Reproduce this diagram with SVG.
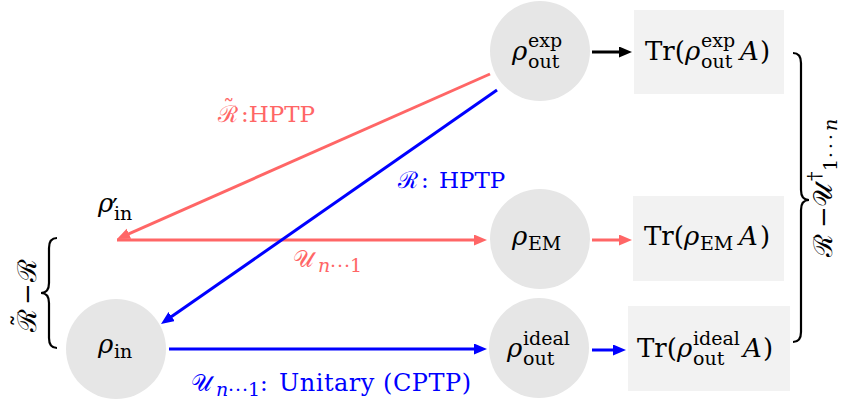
<svg xmlns="http://www.w3.org/2000/svg" width="844" height="408" viewBox="0 0 844 408">
<style>
.m{font-family:"DejaVu Serif","Liberation Serif",serif;font-size:26px;fill:#000}
.i{font-style:italic}
.s{font-size:19px}
.l{font-size:23px}
.red{fill:#ff6666}
.blue{fill:#0000ff}
.circ{fill:#e6e6e6}
.box{fill:#f2f2f2}
.e{stroke-width:3;fill:none}
.br{stroke:#000;stroke-width:2.2;fill:none}
</style>
<defs>
<marker id="ak" markerUnits="userSpaceOnUse" markerWidth="14" markerHeight="12" refX="7" refY="5.5" orient="auto"><path d="M0,0 L13,5.5 L0,11 z" fill="#000"/></marker>
<marker id="ar" markerUnits="userSpaceOnUse" markerWidth="14" markerHeight="12" refX="7" refY="5.5" orient="auto"><path d="M0,0 L13,5.5 L0,11 z" fill="#ff6666"/></marker>
<marker id="ab" markerUnits="userSpaceOnUse" markerWidth="14" markerHeight="12" refX="7" refY="5.5" orient="auto"><path d="M0,0 L13,5.5 L0,11 z" fill="#0000ff"/></marker>
</defs>

<g id="n-exp">
<circle class="circ" cx="540" cy="51" r="50"/>
<text class="m"><tspan class="i" x="512" y="60">ρ</tspan><tspan class="s" x="528" y="47">exp</tspan><tspan class="s" x="528" y="68">out</tspan></text>
</g>
<g id="b-exp">
<rect class="box" x="634" y="10" width="150" height="84"/>
<text class="m"><tspan x="645" y="60">Tr(</tspan><tspan class="i" x="685" y="60">ρ</tspan><tspan class="s" x="701" y="47">exp</tspan><tspan class="s" x="701" y="68">out</tspan><tspan class="i" x="740" y="60">A</tspan><tspan x="760" y="60">)</tspan></text>
</g>

<g id="n-em">
<circle class="circ" cx="540" cy="239" r="50"/>
<text class="m"><tspan class="i" x="512" y="245">ρ</tspan><tspan class="s" x="528" y="250">EM</tspan></text>
</g>
<g id="b-em">
<rect class="box" x="633" y="196" width="151" height="85"/>
<text class="m"><tspan x="644" y="245">Tr(</tspan><tspan class="i" x="684" y="245">ρ</tspan><tspan class="s" x="700" y="250">EM</tspan><tspan class="i" x="739" y="245">A</tspan><tspan x="760" y="245">)</tspan></text>
</g>

<g id="n-ideal">
<circle class="circ" cx="539" cy="348" r="50"/>
<text class="m"><tspan class="i" x="507" y="357">ρ</tspan><tspan class="s" x="523" y="345">ideal</tspan><tspan class="s" x="523" y="365">out</tspan></text>
</g>
<g id="b-ideal">
<rect class="box" x="628" y="306" width="162" height="85"/>
<text class="m"><tspan x="637" y="357">Tr(</tspan><tspan class="i" x="677" y="357">ρ</tspan><tspan class="s" x="693" y="345">ideal</tspan><tspan class="s" x="693" y="365">out</tspan><tspan class="i" x="743" y="357">A</tspan><tspan x="763" y="357">)</tspan></text>
</g>

<g id="n-in">
<circle class="circ" cx="116" cy="349" r="50"/>
<text class="m"><tspan class="i" x="98" y="353">ρ</tspan><tspan class="s" x="114" y="358">in</tspan></text>
</g>

<g id="n-inprime">
<text class="m"><tspan class="i" x="98" y="212">ρ</tspan><tspan x="112" y="217">′</tspan><tspan class="s" x="114" y="220">in</tspan></text>
</g>

<g id="connectors">
<line class="e" stroke="#000" x1="592" y1="52" x2="626" y2="52" marker-end="url(#ak)"/>
<line class="e" stroke="#ff6666" x1="592" y1="240" x2="626" y2="240" marker-end="url(#ar)"/>
<line class="e" stroke="#0000ff" x1="592" y1="350" x2="620" y2="350" marker-end="url(#ab)"/>
<line class="e" stroke="#0000ff" x1="169" y1="349" x2="481" y2="349" marker-end="url(#ab)"/>
<line class="e" stroke="#ff6666" x1="117" y1="240" x2="481" y2="240" marker-end="url(#ar)"/>
<line class="e" stroke="#ff6666" x1="490" y1="74" x2="122.5" y2="236.6" marker-end="url(#ar)"/>
<line class="e" stroke="#0000ff" x1="497" y1="90" x2="165.9" y2="320.6" marker-end="url(#ab)"/>
</g>

<g id="edge-labels">
<text class="m l red"><tspan x="218" y="122">ℛ</tspan><tspan x="223" y="116">˜</tspan><tspan x="241" y="122">:HPTP</tspan></text>
<text class="m l blue"><tspan x="398" y="188">ℛ</tspan><tspan x="421" y="188">:</tspan><tspan x="439" y="188">HPTP</tspan></text>
<text class="m l red"><tspan x="293" y="267">𝒰</tspan><tspan class="s i" x="318" y="272">n</tspan><tspan class="s" x="330" y="272" letter-spacing="1">···</tspan><tspan class="s" x="350" y="272">1</tspan></text>
<text class="m l blue"><tspan x="191" y="391">𝒰</tspan><tspan class="s i" x="216" y="396">n</tspan><tspan class="s" x="228" y="396" letter-spacing="1">···</tspan><tspan class="s" x="248" y="396">1</tspan><tspan x="260" y="391">:</tspan><tspan x="279" y="391" font-size="24" textLength="192" lengthAdjust="spacing">Unitary (CPTP)</tspan></text>
</g>

<g id="brace-right">
<path class="br" d="M793,53 Q801,53 801,63 L801,190 Q801,200 809,200 Q801,200 801,210 L801,332 Q801,342 793,342"/>
<text class="m" transform="translate(832,257) rotate(-90)"><tspan x="0" y="0">ℛ</tspan><tspan x="29" y="0">−</tspan><tspan x="50" y="0">𝒰</tspan><tspan class="s" x="76" y="-11">†</tspan><tspan class="s" x="86" y="5">1</tspan><tspan class="s" x="99" y="5" letter-spacing="3">···</tspan><tspan class="s i" x="126" y="5">n</tspan></text>
</g>
<g id="brace-left">
<path class="br" d="M57,238 Q49,238 49,248 L49,283 Q49,293 41,293 Q49,293 49,303 L49,338 Q49,348 57,348"/>
<text class="m" transform="translate(36,332) rotate(-90)"><tspan x="0" y="0">ℛ</tspan><tspan x="5" y="-5">˜</tspan><tspan x="27" y="0">−</tspan><tspan x="50" y="0">ℛ</tspan></text>
</g>
</svg>
